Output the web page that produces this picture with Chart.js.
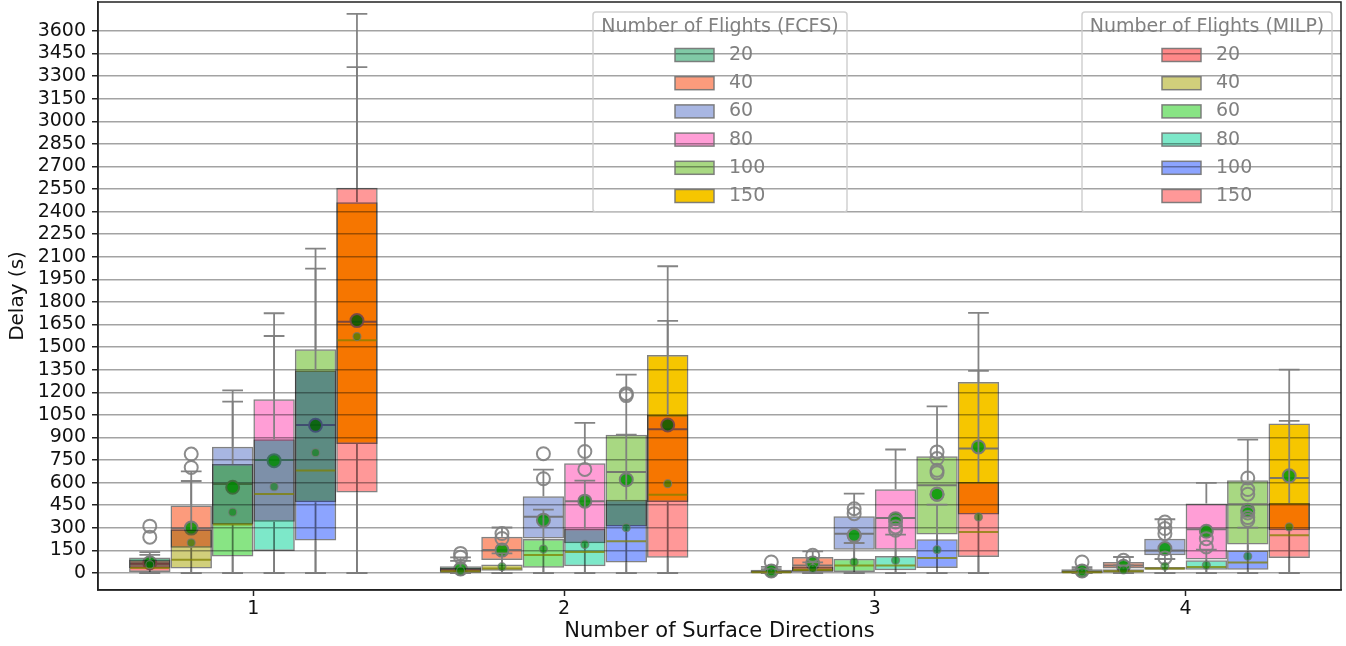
<!DOCTYPE html>
<html>
<head>
<meta charset="utf-8">
<script src="https://cdn.jsdelivr.net/npm/chart.js@4.4.1/dist/chart.umd.min.js"></script>
<style>
  html, body { margin: 0; padding: 0; background: #ffffff; }
  #wrap { width: 1346px; height: 646px; }
</style>
</head>
<body>
<div id="wrap"><canvas id="chart" width="1346" height="646"></canvas></div>
<script>
// ---- data -------------------------------------------------------------
const directions = ['1', '2', '3', '4'];
const flightCounts = ['20', '40', '60', '80', '100', '150'];
const yTicks = [0, 150, 300, 450, 600, 750, 900, 1050, 1200, 1350, 1500, 1650, 1800,
                1950, 2100, 2250, 2400, 2550, 2700, 2850, 3000, 3150, 3300, 3450, 3600];

// FCFS delay statistics (s): one row per flight count, one column per direction
const fcfsQ1 = [
  [33, 8, 3, 3],
  [168, 86, 13, 29],
  [322, 229, 155, 117],
  [341, 198, 155, 89],
  [469, 309, 255, 190],
  [857, 471, 388, 284]
];
const fcfsMedian = [
  [62, 25, 10, 10],
  [295, 152, 50, 50],
  [591, 373, 261, 150],
  [750, 477, 365, 290],
  [983, 670, 583, 456],
  [1669, 954, 826, 631]
];
const fcfsQ3 = [
  [103, 45, 22, 25],
  [448, 240, 106, 73],
  [838, 510, 377, 228],
  [1153, 728, 556, 461],
  [1486, 918, 775, 616],
  [2462, 1448, 1269, 992]
];
const fcfsWhiskerLow = [
  [0, 0, 0, 0], [0, 0, 0, 0], [0, 0, 0, 0],
  [0, 0, 0, 0], [0, 0, 0, 0], [0, 0, 0, 0]
];
const fcfsWhiskerHigh = [
  [139, 104, 40, 38],
  [675, 302, 144, 106],
  [1213, 686, 527, 357],
  [1725, 997, 820, 598],
  [2154, 1317, 1107, 886],
  [3713, 2037, 1728, 1351]
];
const fcfsMean = [
  [68, 26, 13, 13],
  [298, 152, 66, 44],
  [569, 351, 250, 162],
  [746, 477, 361, 277],
  [981, 620, 523, 416],
  [1676, 983, 837, 645]
];
const fcfsOutliers = [
  [[238, 311], [], [73], [73]],
  [[701, 790], [], [], []],
  [[], [792], [], []],
  [[], [], [], []],
  [[], [], [], []],
  [[], [], [], []]
];

// MILP delay statistics (s)
const milpQ1 = [
  [7, 2, 1, 1],
  [29, 15, 5, 5],
  [110, 35, 7, 22],
  [146, 44, 18, 22],
  [215, 69, 33, 22],
  [534, 102, 106, 100]
];
const milpMedian = [
  [33, 12, 5, 5],
  [88, 30, 20, 12],
  [322, 119, 50, 30],
  [525, 139, 50, 40],
  [680, 210, 100, 70],
  [1545, 520, 272, 250]
];
const milpQ3 = [
  [90, 35, 12, 12],
  [289, 57, 40, 25],
  [724, 225, 95, 40],
  [888, 293, 113, 84],
  [1344, 486, 224, 150],
  [2559, 1049, 605, 465]
];
const milpWhiskerLow = [
  [0, 0, 0, 0], [0, 0, 0, 0], [0, 0, 0, 0],
  [0, 0, 0, 0], [0, 0, 0, 0], [0, 0, 0, 0]
];
const milpWhiskerHigh = [
  [120, 80, 25, 25],
  [611, 130, 70, 50],
  [1138, 421, 199, 93],
  [1574, 613, 255, 155],
  [2021, 918, 454, 301],
  [3359, 1674, 1342, 1010]
];
const milpMean = [
  [55, 15, 8, 8],
  [200, 42, 30, 20],
  [404, 159, 73, 44],
  [573, 190, 84, 51],
  [799, 301, 155, 111],
  [1570, 593, 372, 306]
];
const milpOutliers = [
  [[], [105, 130], [], []],
  [[], [229, 262], [117], [84]],
  [[], [626], [250, 394, 427], [100, 261, 295, 339]],
  [[], [688, 807], [284, 306, 339], [173, 228]],
  [[], [1178, 1191], [523, 665, 682, 760, 804], [350, 368, 399, 523, 554, 631]],
  [[], [], [], []]
];

// ---- styling ----------------------------------------------------------
const FONT = "'DejaVu Sans', 'Liberation Sans', sans-serif";
// box fills are blended with 'multiply', so overlapping boxes darken each other
const fcfsColors = ['#80c9a6', '#fc9b7c', '#a8b6e2', '#ff9ed6', '#a8d882', '#f6c600'];
const milpColors = ['#ff8888', '#d1cf7b', '#88e484', '#7de8c9', '#8ca4ff', '#ff9898'];
const edgeGray = 'rgba(115,115,115,0.9)';

const seriesStats = {
  fcfs: { q1: fcfsQ1, med: fcfsMedian, q3: fcfsQ3, lo: fcfsWhiskerLow, hi: fcfsWhiskerHigh,
          mean: fcfsMean, out: fcfsOutliers,
          medianColor: 'rgba(110,110,110,0.9)', meanRadius: 6.5,
          meanFill: 'rgba(0,150,0,0.85)', meanEdge: 'rgba(120,120,120,0.95)', meanEdgeWidth: 2 },
  milp: { q1: milpQ1, med: milpMedian, q3: milpQ3, lo: milpWhiskerLow, hi: milpWhiskerHigh,
          mean: milpMean, out: milpOutliers,
          medianColor: 'rgba(128,128,0,0.75)', meanRadius: 4,
          meanFill: 'rgba(0,128,0,0.55)', meanEdge: 'rgba(120,120,120,0.7)', meanEdgeWidth: 1.2 }
};

// FCFS and MILP boxes of the same flight count share one slot ("stack")
function boxDatasets(series, q1, q3, colors, order) {
  return flightCounts.map((count, i) => ({
    label: count,
    series: series,
    flightIndex: i,
    stack: 'flights' + count,
    data: q1[i].map((lo, d) => [lo, q3[i][d]]),
    backgroundColor: colors[i],
    borderColor: edgeGray,
    borderWidth: 1.5,
    borderSkipped: false,
    order: order,
    categoryPercentage: 0.8,
    barPercentage: 1.0
  }));
}

// whiskers, caps, medians, means and fliers drawn right after each box layer
const boxExtras = {
  id: 'boxExtras',
  beforeDatasetDraw(chart) {
    chart.ctx.save();
    chart.ctx.globalCompositeOperation = 'multiply';
  },
  afterDatasetDraw(chart, args) {
    chart.ctx.restore();
    const ds = chart.data.datasets[args.index];
    const s = seriesStats[ds.series];
    if (!s) return;
    const i = ds.flightIndex;
    const yScale = chart.scales.y;
    const py = v => yScale.getPixelForValue(v);
    const ctx = chart.ctx;
    const a = chart.chartArea;
    ctx.save();
    ctx.beginPath();
    ctx.rect(a.left, a.top, a.right - a.left, a.bottom - a.top);
    ctx.clip();
    args.meta.data.forEach((bar, d) => {
      const cx = bar.x;
      const half = bar.width / 2;
      const cap = bar.width / 4;
      ctx.strokeStyle = 'rgba(125,125,125,0.95)';
      ctx.lineWidth = 1.8;
      ctx.beginPath();
      ctx.moveTo(cx, py(s.q3[i][d])); ctx.lineTo(cx, py(s.hi[i][d]));
      ctx.moveTo(cx, py(s.q1[i][d])); ctx.lineTo(cx, py(s.lo[i][d]));
      ctx.moveTo(cx - cap, py(s.hi[i][d])); ctx.lineTo(cx + cap, py(s.hi[i][d]));
      ctx.moveTo(cx - cap, py(s.lo[i][d])); ctx.lineTo(cx + cap, py(s.lo[i][d]));
      ctx.stroke();

      ctx.strokeStyle = s.medianColor;
      ctx.lineWidth = 2;
      ctx.beginPath();
      ctx.moveTo(cx - half + 1, py(s.med[i][d]));
      ctx.lineTo(cx + half - 1, py(s.med[i][d]));
      ctx.stroke();

      ctx.strokeStyle = 'rgba(128,128,128,0.9)';
      ctx.lineWidth = 2;
      s.out[i][d].forEach(v => {
        ctx.beginPath();
        ctx.arc(cx, py(v), 6.5, 0, Math.PI * 2);
        ctx.stroke();
      });

      ctx.beginPath();
      ctx.arc(cx, py(s.mean[i][d]), s.meanRadius, 0, Math.PI * 2);
      ctx.fillStyle = s.meanFill;
      ctx.fill();
      ctx.strokeStyle = s.meanEdge;
      ctx.lineWidth = s.meanEdgeWidth;
      ctx.stroke();
    });
    ctx.restore();
  }
};

function drawLegendBox(ctx, left, top, width, title, colors) {
  const height = 200;
  ctx.save();
  ctx.strokeStyle = 'rgba(204,204,204,0.9)';
  ctx.lineWidth = 1.5;
  ctx.beginPath();
  ctx.roundRect(left, top, width, height, 3);
  ctx.stroke();
  ctx.font = '19px ' + FONT;
  ctx.fillStyle = '#808080';
  ctx.textAlign = 'center';
  ctx.textBaseline = 'middle';
  ctx.fillText(title, left + width / 2, top + 15);
  const patchX = left + width / 2 - 45;
  flightCounts.forEach((count, k) => {
    const rowY = top + 43 + k * 28.2;
    ctx.save();
    ctx.globalCompositeOperation = 'multiply';
    ctx.fillStyle = colors[k];
    ctx.fillRect(patchX, rowY - 6.5, 39, 13);
    ctx.restore();
    ctx.strokeStyle = edgeGray;
    ctx.lineWidth = 1.5;
    ctx.strokeRect(patchX, rowY - 6.5, 39, 13);
    ctx.fillStyle = '#808080';
    ctx.textAlign = 'left';
    ctx.fillText(count, patchX + 54, rowY);
  });
  ctx.restore();
}

const legendsAndFrame = {
  id: 'legendsAndFrame',
  afterDraw(chart) {
    const ctx = chart.ctx;
    const a = chart.chartArea;
    drawLegendBox(ctx, a.left + 495, a.top + 10, 254, 'Number of Flights (FCFS)', fcfsColors);
    drawLegendBox(ctx, a.right - 259, a.top + 10, 250, 'Number of Flights (MILP)', milpColors);
    ctx.save();
    ctx.strokeStyle = '#222222';
    ctx.lineWidth = 1.5;
    ctx.strokeRect(a.left, a.top, a.right - a.left, a.bottom - a.top);
    ctx.restore();
  }
};

const datasets = [
  ...boxDatasets('fcfs', fcfsQ1, fcfsQ3, fcfsColors, 2),
  ...boxDatasets('milp', milpQ1, milpQ3, milpColors, 1)
];

new Chart(document.getElementById('chart'), {
  type: 'bar',
  data: { labels: directions, datasets: datasets },
  plugins: [boxExtras, legendsAndFrame],
  options: {
    responsive: false,
    animation: false,
    devicePixelRatio: 1,
    layout: { padding: { left: 0, right: 5, top: 2, bottom: 0 } },
    plugins: { legend: { display: false }, tooltip: { enabled: false } },
    scales: {
      x: {
        type: 'category',
        offset: true,
        grid: { display: true, drawOnChartArea: false, offset: false, tickLength: 6,
                tickColor: '#222222', tickWidth: 1.5 },
        border: { display: true, color: '#222222', width: 1.5 },
        ticks: { color: '#111111', font: { family: FONT, size: 19 }, padding: 2, maxRotation: 0 },
        title: { display: true, text: 'Number of Surface Directions', color: '#111111',
                 font: { family: FONT, size: 21 }, padding: { top: 0, bottom: 2 } },
        afterFit(scale) {
          scale.height = 56;
          scale.paddingLeft = 0;
          scale.paddingRight = 0;
        }
      },
      y: {
        type: 'linear',
        stacked: false,
        min: -113,
        max: 3792,
        afterBuildTicks(scale) { scale.ticks = yTicks.map(v => ({ value: v })); },
        grid: { color: 'rgba(140,140,140,0.8)', lineWidth: 1.5, tickLength: 6,
                tickColor: '#222222', tickWidth: 1.5 },
        border: { display: true, color: '#222222', width: 1.5 },
        ticks: { autoSkip: false, includeBounds: false, color: '#111111',
                 font: { family: FONT, size: 19, lineHeight: 1 }, padding: 6,
                 callback: value => String(value) },
        title: { display: true, text: 'Delay (s)', color: '#111111',
                 font: { family: FONT, size: 20 }, padding: { top: 6, bottom: 0 } },
        afterFit(scale) {
          scale.width = 98;
          scale.paddingTop = 0;
          scale.paddingBottom = 0;
        }
      }
    }
  }
});
</script>
</body>
</html>
